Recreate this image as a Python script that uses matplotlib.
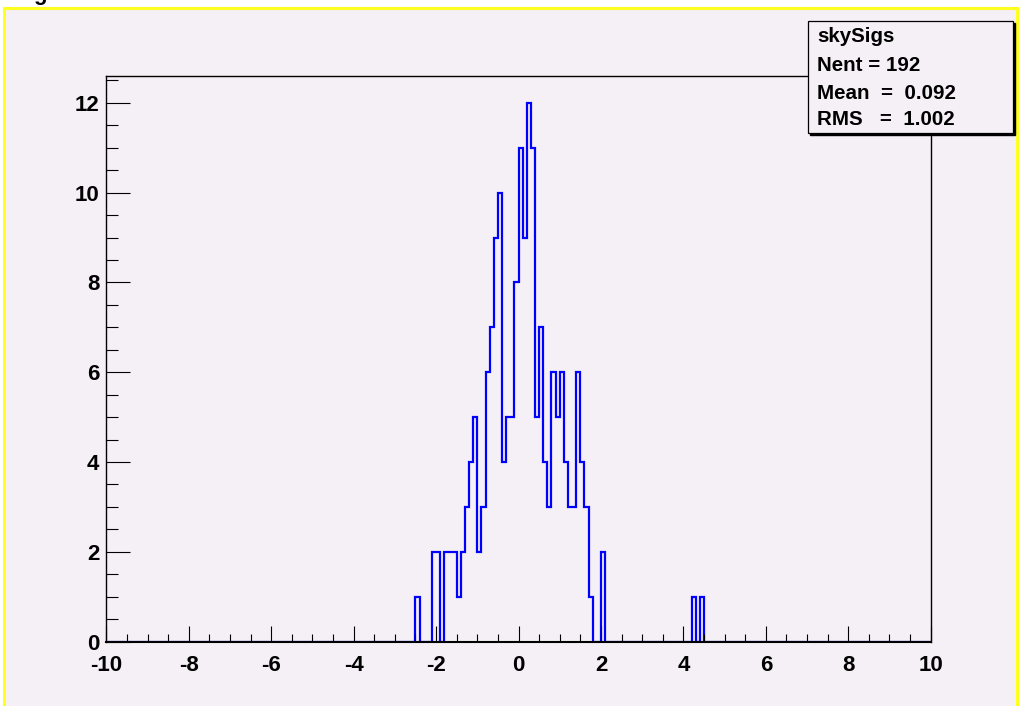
import numpy as np
import matplotlib
matplotlib.use("Agg")
import matplotlib.pyplot as plt
from matplotlib.patches import Rectangle
from matplotlib.ticker import MultipleLocator

plt.rcParams['font.family'] = ['Liberation Sans', 'DejaVu Sans']
plt.rcParams['font.weight'] = 'bold'
plt.rcParams['axes.unicode_minus'] = False

# histogram binning: 200 bins on [-10, 10]
x_lo, x_hi, n_bins = -10.0, 10.0, 200

# counts of the filled region, one value per 0.1 bin starting at -2.5
core_start = -2.5
core_counts = [1, 0, 0, 0, 2, 2, 0, 2, 2, 2,
               1, 2, 3, 4, 5, 2, 3, 6, 7, 9,
               10, 4, 5, 5, 8, 11, 9, 12, 11, 5,
               7, 4, 3, 6, 5, 6, 4, 3, 3, 6,
               4, 3, 1, 0, 0, 2]

# the two stray entries out in the tail
tail_start = 4.2
tail_counts = [1, 0, 1]

hist_name = "skySigs"
stat_lines = ["Nent = 192", "Mean  =  0.092", "RMS   =  1.002"]

edges = np.linspace(x_lo, x_hi, n_bins + 1)
width = (x_hi - x_lo) / n_bins
counts = np.zeros(n_bins)
i0 = int(round((core_start - x_lo) / width))
counts[i0:i0 + len(core_counts)] = core_counts
i1 = int(round((tail_start - x_lo) / width))
counts[i1:i1 + len(tail_counts)] = tail_counts

W, H = 1021, 706
pad_bg = '#f5f0f5'

fig = plt.figure(figsize=(W / 100, H / 100), dpi=100)
fig.patch.set_facecolor('white')

# canvas frame
fig.patches.append(Rectangle((4 / W, -0.02), (1017 - 4) / W, 1.02 - 8 / H,
                             transform=fig.transFigure, facecolor=pad_bg,
                             edgecolor='#ffff20', linewidth=2.2, zorder=-10))

# title, mostly off the top edge
fig.text(33 / W, 1.0, "g", fontsize=16, fontweight='bold', va='baseline')

ax = fig.add_axes([106.3 / W, 1 - 641.5 / H, (930.7 - 106.3) / W, (641.5 - 76) / H])
ax.set_facecolor(pad_bg)

ax.stairs(counts, edges, color='#0000ff', linewidth=1.6)

ax.set_xlim(x_lo, x_hi)
ax.set_ylim(0, 12.6)

ax.xaxis.set_major_locator(MultipleLocator(2))
ax.xaxis.set_minor_locator(MultipleLocator(0.5))
ax.yaxis.set_major_locator(MultipleLocator(2))
ax.yaxis.set_minor_locator(MultipleLocator(0.5))

ax.tick_params(axis='x', which='major', direction='in', length=11.5, width=0.8,
               labelsize=16, pad=10)
ax.tick_params(axis='x', which='minor', direction='in', length=5.8, width=0.8)
ax.tick_params(axis='y', which='major', direction='in', length=17.3, width=0.8,
               labelsize=16, pad=5)
ax.tick_params(axis='y', which='minor', direction='in', length=8.6, width=0.8)
for lab in ax.get_xticklabels() + ax.get_yticklabels():
    lab.set_fontweight('bold')

for sp in ax.spines.values():
    sp.set_linewidth(1.0)
ax.spines['bottom'].set_linewidth(1.5)

# statistics box with drop shadow
bx0, by0, bx1, by1 = 808, 21, 1013, 133
fig.patches.append(Rectangle(((bx0 + 2) / W, 1 - (by1 + 2) / H), (bx1 - bx0) / W,
                             (by1 - by0) / H, transform=fig.transFigure,
                             facecolor='black', edgecolor='black', zorder=5))
fig.patches.append(Rectangle((bx0 / W, 1 - by1 / H), (bx1 - bx0) / W,
                             (by1 - by0) / H, transform=fig.transFigure,
                             facecolor=pad_bg, edgecolor='black', linewidth=0.9,
                             zorder=6))
baselines = [42, 71, 99, 125]
for txt, yb in zip([hist_name] + stat_lines, baselines):
    fig.text(817 / W, 1 - yb / H, txt, fontsize=14.8, fontweight='bold',
             va='baseline', ha='left', zorder=7)

fig.savefig("out.png", dpi=100, facecolor=fig.get_facecolor())
